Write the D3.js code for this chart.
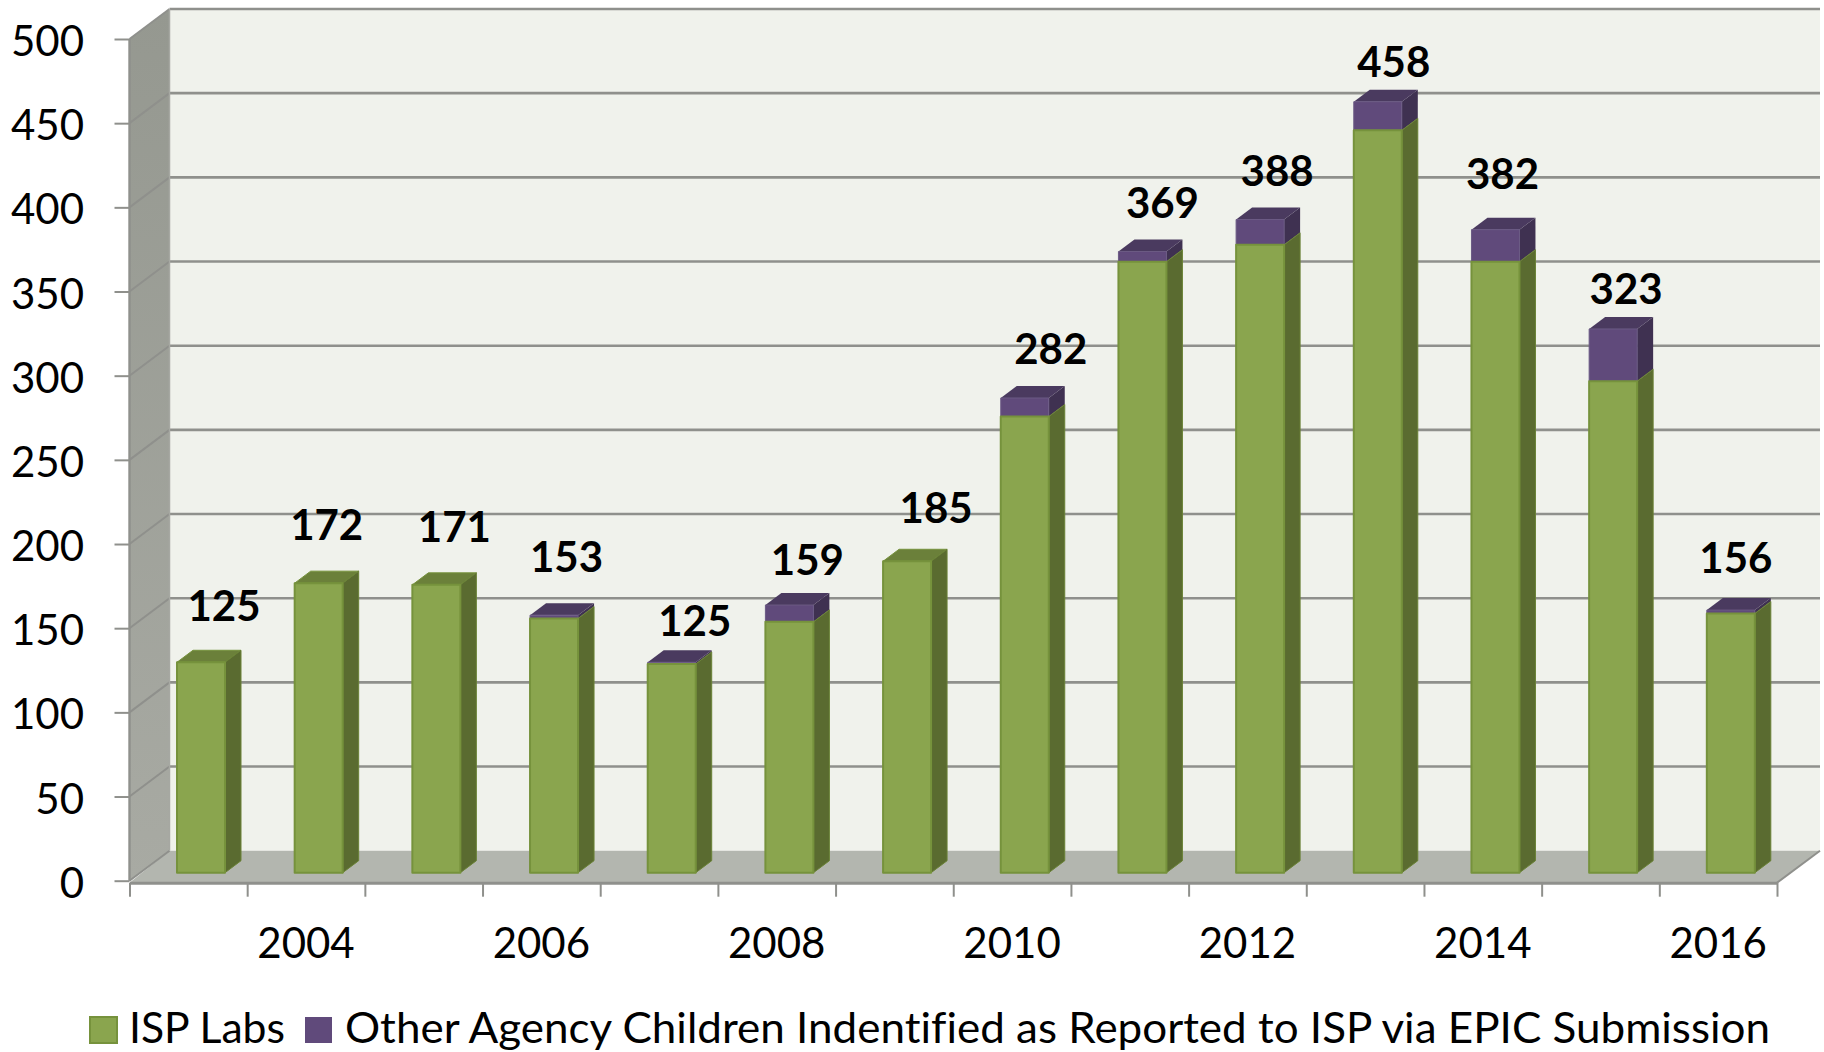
<!DOCTYPE html>
<html><head><meta charset="utf-8">
<script src="https://cdn.jsdelivr.net/npm/d3@7"></script>
<style>html,body{margin:0;padding:0;background:#fff}svg{display:block}text{font-family:Lato,sans-serif;fill:#000;font-variant-ligatures:none}</style>
</head><body><svg id="c" width="1824" height="1052"></svg>
<script>
const years=[2003,2004,2005,2006,2007,2008,2009,2010,2011,2012,2013,2014,2015,2016];
const ispLabs=[125,172,171,151,124,149,185,271,363,373,441,363,292,154];
const otherAgency=[0,0,0,2,1,10,0,11,6,15,17,19,31,2];
const totals=[125,172,171,153,125,159,185,282,369,388,458,382,323,156];
const yTicks=[0,50,100,150,200,250,300,350,400,450,500];
const yearLabels=[2004,2006,2008,2010,2012,2014,2016];
const seriesNames=["ISP Labs","Other Agency Children Indentified as Reported to ISP via EPIC Submission"];
const labelDx=[23,8,18,12.5,23,18,29,26,20,17,16,7,13,5];
const labelDy=[-41,-43,-43,-43,-26,-30,-38,-34,-34,-34,-25,-41,-25,-37];

const svg=d3.select("#c");
const L=129.5,R=1777,W0=880.7,W500=39,DX=40,DY=30,BW=48,INSET=47.5,BDX=16,BDY=12,BLIFT=8,FS=42;
const x=d3.scaleBand().domain(years).range([L,R]).padding(0);
const xTick=d3.scaleLinear().domain([0,years.length]).range([L,R]);
const y=d3.scaleLinear().domain([0,500]).range([W0,W500]);
const poly=(pts,fill,stroke,sw)=>svg.append("polygon").attr("points",pts.map(p=>p.join(",")).join(" ")).attr("fill",fill).attr("stroke",stroke||"none").attr("stroke-width",sw||0).attr("stroke-linejoin","round");
const defs=svg.append("defs");
const g=defs.append("linearGradient").attr("id","side").attr("x1",0).attr("x2",0).attr("y1",0).attr("y2",1);
g.append("stop").attr("offset","0").attr("stop-color","#959890");
g.append("stop").attr("offset","1").attr("stop-color","#A8AAA3");

// walls and floor
poly([[L+DX,y(500)-DY],[1820,y(500)-DY],[1820,y(0)-DY],[L+DX,y(0)-DY]],"#F0F2EC");
poly([[L,y(500)],[L+DX,y(500)-DY],[L+DX,y(0)-DY],[L,y(0)]],"url(#side)");
poly([[L,y(0)+2],[L+DX,y(0)-DY],[1820,y(0)-DY],[R,y(0)+2]],"#B3B6AF");
// gridlines
yTicks.forEach(v=>{
  if(v>0) svg.append("line").attr("x1",L+DX).attr("x2",1820).attr("y1",y(v)-DY).attr("y2",y(v)-DY).attr("stroke","#8F908C").attr("stroke-width",2.6);
  svg.append("line").attr("x1",L).attr("x2",L+DX).attr("y1",y(v)).attr("y2",y(v)-DY).attr("stroke","#8F908C").attr("stroke-width",2);
});
svg.append("line").attr("x1",L).attr("x2",L).attr("y1",y(500)).attr("y2",y(0)).attr("stroke","#8F908C").attr("stroke-width",2.4);
svg.append("line").attr("x1",L+DX).attr("x2",L+DX).attr("y1",y(500)-DY).attr("y2",y(0)-DY).attr("stroke","#A6A8A2").attr("stroke-width",1.5);
svg.append("line").attr("x1",R).attr("x2",1820).attr("y1",y(0)+2).attr("y2",y(0)-DY).attr("stroke","#8F908C").attr("stroke-width",2);

// axes
const ya=svg.append("g").attr("transform",`translate(${L},0)`).call(d3.axisLeft(y).tickValues(yTicks).tickSize(15).tickFormat(""));
ya.select(".domain").remove();
ya.selectAll("line").attr("stroke","#8F908C").attr("stroke-width",2);
const xa=svg.append("g").attr("transform",`translate(0,${y(0)+2})`).call(d3.axisBottom(xTick).tickValues(d3.range(years.length+1)).tickSize(14).tickSizeOuter(0).tickFormat(""));
xa.select(".domain").attr("stroke","#8F908C").attr("stroke-width",3);
xa.selectAll("line").attr("stroke","#8F908C").attr("stroke-width",2);
svg.selectAll(".yl").data(yTicks).join("text").attr("x",84).attr("y",d=>y(d)+17).attr("text-anchor","end").attr("font-size",FS).text(d=>d);
svg.selectAll(".xl").data(yearLabels).join("text").attr("x",d=>x(d)+x.bandwidth()/2).attr("y",958).attr("text-anchor","middle").attr("font-size",FS).text(d=>d);

// bars
const ys=v=>y(v)-BLIFT;
years.forEach((yr,i)=>{
  const a=x(yr)+INSET,b=a+BW,g0=ispLabs[i],t=g0+otherAgency[i];
  const gy=ys(g0),ty=ys(t),by=ys(0);
  if(otherAgency[i]>0){
    poly([[b,ty],[b+BDX,ty-BDY],[b+BDX,gy-BDY],[b,gy]],"#3F3151");
    poly([[a,ty],[a+BDX,ty-BDY],[b+BDX,ty-BDY],[b,ty]],"#4A3A5F");
    poly([[a,ty],[b,ty],[b,gy],[a,gy]],"#604A7B","#6B5A84",1);
  } else {
    poly([[a,gy],[a+BDX,gy-BDY],[b+BDX,gy-BDY],[b,gy]],"#6B803A","#76923C",1);
  }
  poly([[b,gy],[b+BDX,gy-BDY],[b+BDX,by-BDY],[b,by]],"#5A6B30","#6A8236",1);
  poly([[a,gy],[b,gy],[b,by],[a,by]],"#8AA54E","#76923C",2);
});
// labels
svg.selectAll(".dl").data(years).join("text").attr("x",(d,i)=>x(d)+INSET+BW/2+labelDx[i]).attr("y",(d,i)=>ys(totals[i])+labelDy[i]).attr("text-anchor","middle").attr("font-size",FS).attr("font-weight",700).text((d,i)=>totals[i]);

// legend
svg.append("rect").attr("x",90).attr("y",1017).attr("width",27).attr("height",26).attr("fill","#8AA54E").attr("stroke","#76923C").attr("stroke-width",2);
svg.append("rect").attr("x",305).attr("y",1017).attr("width",27).attr("height",26).attr("fill","#604A7B");
svg.append("text").attr("x",129).attr("y",1043).attr("font-size",FS).attr("textLength",156).attr("lengthAdjust","spacingAndGlyphs").text(seriesNames[0]);
svg.append("text").attr("x",345).attr("y",1043).attr("font-size",FS).attr("textLength",1425).attr("lengthAdjust","spacingAndGlyphs").text(seriesNames[1]);
</script></body></html>
